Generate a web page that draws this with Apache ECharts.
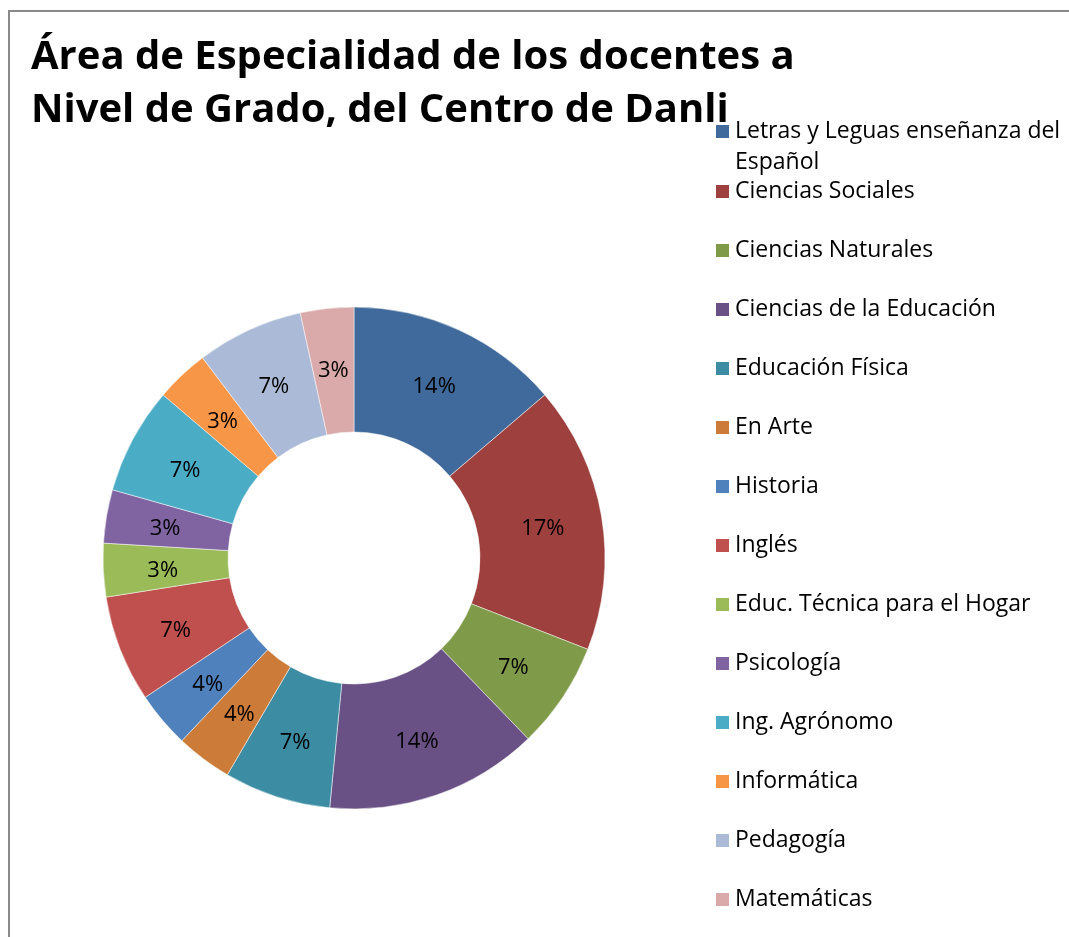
<!DOCTYPE html>
<html>
<head>
<meta charset="utf-8">
<script src="https://cdn.jsdelivr.net/npm/echarts@6/dist/echarts.min.js"></script>
<style>
  html, body { margin: 0; padding: 0; background: #fff; }
  #chart { position: absolute; left: 0; top: 0; width: 1069px; height: 937px; }
  #frame {
    position: absolute; left: 8px; top: 10px; width: 1069px; height: 937px;
    border-left: 2px solid #8a8a8a; border-top: 2px solid #8a8a8a;
    pointer-events: none;
  }
</style>
</head>
<body>
<div id="chart"></div>
<div id="frame"></div>
<script>
// categories and values
const categories = [
  "Letras y Leguas enseñanza del Español",
  "Ciencias Sociales",
  "Ciencias Naturales",
  "Ciencias de la Educación",
  "Educación Física",
  "En Arte",
  "Historia",
  "Inglés",
  "Educ. Técnica para el Hogar",
  "Psicología",
  "Ing. Agrónomo",
  "Informática",
  "Pedagogía",
  "Matemáticas"
]
const values = [4, 5, 2, 4, 2, 1.05, 1.05, 2, 1, 1, 2, 1, 2, 1]
const colors = [
  "#3f6a9b", "#9e413e", "#7f9a48", "#695185", "#3c8da3", "#cc7b38", "#4f81bd",
  "#c0504d", "#9bbb59", "#8064a2", "#4bacc6", "#f79646", "#aabad7", "#d9aaa9"
]

const titleText = "Área de Especialidad de los docentes a\nNivel de Grado, del Centro de Danli"
const font = "'Open Sans', Lato, sans-serif"

const chart = echarts.init(document.getElementById("chart"), null, { renderer: "canvas" })

chart.setOption({
  backgroundColor: "#ffffff",
  animation: false,
  color: colors,
  title: {
    text: titleText,
    left: 31,
    top: 31,
    padding: 0,
    textStyle: {
      fontFamily: font,
      fontWeight: "bold",
      fontSize: 40,
      lineHeight: 53,
      color: "#000"
    }
  },
  legend: [
    {
      // first entry wraps onto two lines; empty first line keeps the
      // marker level with "Letras..."
      data: [categories[0]],
      orient: "vertical",
      left: 714,
      top: 85,
      padding: 0,
      icon: "rect",
      itemWidth: 15,
      itemHeight: 15,
      selectedMode: false,
      formatter: () => "\nLetras y Leguas enseñanza del\nEspañol",
      textStyle: {
        fontFamily: font,
        fontSize: 23,
        lineHeight: 31,
        color: "#000"
      }
    },
    {
      data: categories.slice(1),
      orient: "vertical",
      left: 714,
      top: 176,
      padding: 0,
      itemGap: 28,
      icon: "rect",
      itemWidth: 15,
      itemHeight: 15,
      selectedMode: false,
      textStyle: {
        fontFamily: font,
        fontSize: 23,
        lineHeight: 31,
        color: "#000"
      }
    }
  ],
  series: [
    {
      type: "pie",
      center: [354, 558],
      radius: [126, 251],
      startAngle: 90,
      clockwise: true,
      avoidLabelOverlap: false,
      itemStyle: { borderColor: "#ffffff", borderWidth: 0.5 },
      label: {
        show: true,
        position: "inside",
        offset: [0, 3],
        formatter: (p) => Math.round(p.percent) + "%",
        fontFamily: font,
        fontSize: 22,
        color: "#000"
      },
      labelLine: { show: false },
      emphasis: { disabled: true },
      data: categories.map((name, i) => ({ name, value: values[i] }))
    }
  ]
})
</script>
</body>
</html>
